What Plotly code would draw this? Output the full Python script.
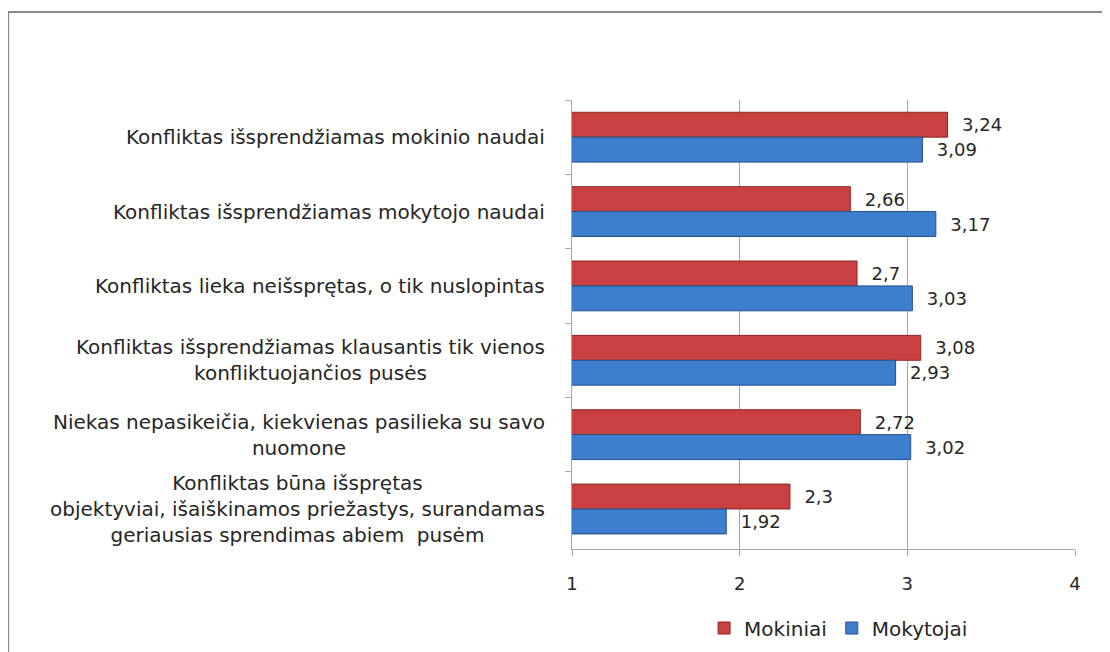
import plotly.graph_objects as go

categories = [
    "Konfliktas išsprendžiamas mokinio naudai",
    "Konfliktas išsprendžiamas mokytojo naudai",
    "Konfliktas lieka neišsprętas, o tik nuslopintas",
    "Konfliktas išsprendžiamas klausantis tik vienos<br>konfliktuojančios pusės",
    "Niekas nepasikeičia, kiekvienas pasilieka su savo<br>nuomone",
    "Konfliktas būna išsprętas<br>objektyviai, išaiškinamos priežastys, surandamas<br>geriausias sprendimas abiem  pusėm",
]
mokiniai = [3.24, 2.66, 2.7, 3.08, 2.72, 2.3]
mokytojai = [3.09, 3.17, 3.03, 2.93, 3.02, 1.92]
x_ticks = [1, 2, 3, 4]

FONT = "DejaVu Sans"
TXT = "#262626"


def lbl(vals):
    return ["  " + str(v).replace(".", ",") for v in vals]


fig = go.Figure()
fig.add_trace(go.Bar(
    y=categories, x=mokiniai, orientation="h", name="Mokiniai",
    marker=dict(color="#C8403F", line=dict(color="#8E2726", width=1)),
    text=lbl(mokiniai), textposition="outside", cliponaxis=False,
    constraintext="none", textfont=dict(size=18, color=TXT, family=FONT),
))
fig.add_trace(go.Bar(
    y=categories, x=mokytojai, orientation="h", name="Mokytojai",
    marker=dict(color="#3E7ECF", line=dict(color="#23508A", width=1)),
    text=lbl(mokytojai), textposition="outside", cliponaxis=False,
    constraintext="none", textfont=dict(size=18, color=TXT, family=FONT),
))

# category labels, centred lines like the original
for c in categories:
    fig.add_annotation(
        x=0, xref="paper", y=c, yref="y", xanchor="right", xshift=-25,
        align="center", showarrow=False, text=c,
        font=dict(size=20, color=TXT, family=FONT),
    )

# outer chart frame
fig.add_shape(type="rect", xref="paper", yref="paper",
              x0=-1.121, x1=1.3, y0=1.196, y1=-0.4,
              line=dict(color="#8A8A8A", width=2))

# page body has an 8px margin, so margins are shifted to keep plot area in place
fig.update_layout(
    width=1110, height=652,
    margin=dict(l=564, r=43, t=92, b=111),
    paper_bgcolor="white", plot_bgcolor="white",
    barmode="group", bargap=0.33, bargroupgap=0,
    font=dict(family=FONT, size=18, color=TXT),
    showlegend=True,
    legend=dict(orientation="h", x=0.53, xanchor="center", y=-0.176, yanchor="middle",
                font=dict(size=20), itemwidth=30, tracegroupgap=0),
    xaxis=dict(range=[1, 4], tickvals=x_ticks, ticktext=[str(t) for t in x_ticks],
               showgrid=True, gridcolor="#A6A6A6", gridwidth=1,
               showline=True, linecolor="#A6A6A6", linewidth=1,
               ticks="outside", ticklen=6, tickcolor="#A6A6A6",
               zeroline=False, tickfont=dict(size=18), ticklabelstandoff=12),
    yaxis=dict(categoryorder="array", categoryarray=categories, autorange="reversed",
               showticklabels=False, showgrid=False, showline=True,
               linecolor="#A6A6A6", linewidth=1, ticks="outside", ticklen=6,
               tickcolor="#A6A6A6", tickson="boundaries"),
)

fig.write_html("out.html")
